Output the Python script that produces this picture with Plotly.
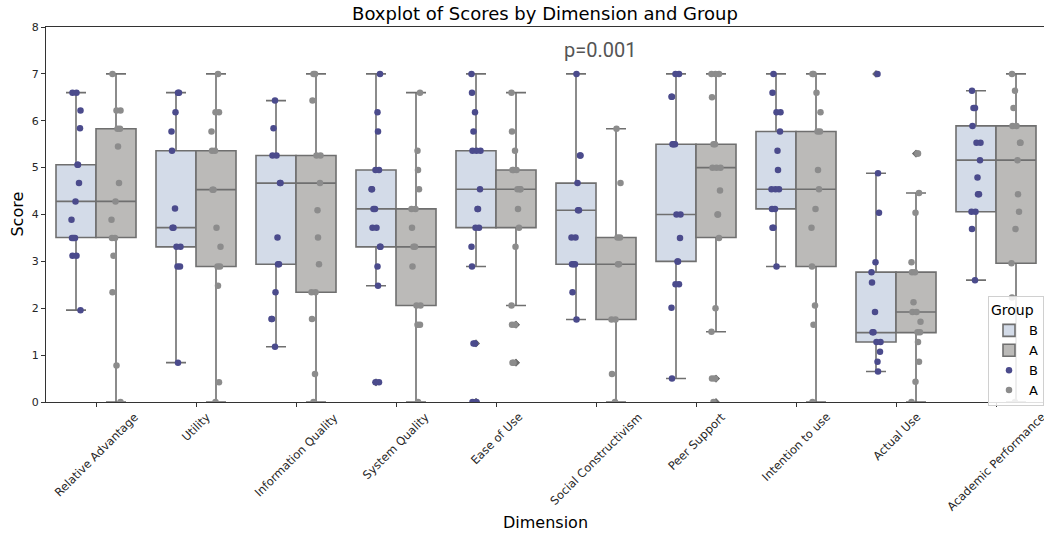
import plotly.graph_objects as go

dimensions = ["Relative Advantage", "Utility", "Information Quality", "System Quality",
              "Ease of Use", "Social Constructivism", "Peer Support", "Intention to use",
              "Actual Use", "Academic Performance"]
groups = ["B", "A"]

# individual scores
scores_B = [
    [6.6, 6.6, 6.22, 5.84, 5.06, 5.06, 4.67, 4.28, 3.89, 3.5, 3.5, 3.5, 3.12, 3.12, 1.96],
    [6.6, 6.6, 6.18, 5.77, 5.36, 4.13, 3.72, 3.72, 3.31, 3.31, 2.89, 2.89, 0.84],
    [6.43, 5.84, 5.26, 5.26, 4.67, 4.67, 3.51, 2.94, 2.94, 2.34, 1.77, 1.77, 1.18],
    [7.0, 6.18, 5.77, 4.95, 4.95, 4.54, 4.54, 4.12, 4.12, 3.72, 3.72, 3.31, 3.31, 2.89, 2.48, 0.42, 0.42],
    [7.0, 6.6, 6.18, 5.77, 5.36, 5.36, 5.36, 4.54, 4.12, 4.12, 3.72, 3.72, 3.31, 2.89, 1.25, 1.25, 0.0, 0.0],
    [7.0, 5.26, 5.26, 4.67, 4.09, 4.09, 3.51, 3.51, 2.94, 2.94, 2.94, 2.34, 1.76],
    [7.0, 7.0, 6.51, 6.51, 5.5, 5.5, 5.5, 4.0, 4.0, 3.5, 3.0, 3.0, 2.51, 2.51, 2.01, 0.5],
    [7.0, 6.6, 6.18, 6.18, 5.77, 5.36, 4.95, 4.54, 4.54, 4.54, 4.12, 4.12, 3.72, 3.72, 2.89],
    [7.0, 4.88, 4.04, 2.98, 2.77, 2.55, 1.92, 1.49, 1.49, 1.28, 1.28, 1.07, 0.86, 0.65],
    [6.64, 6.27, 6.27, 5.89, 5.53, 5.53, 5.16, 4.79, 4.43, 4.43, 4.06, 4.06, 3.69, 2.6],
]
scores_A = [
    [7.0, 6.22, 6.22, 5.83, 5.83, 5.45, 4.67, 4.28, 3.89, 3.5, 3.5, 3.12, 2.34, 0.78, 0.0],
    [7.0, 6.18, 6.18, 5.77, 5.36, 5.36, 4.53, 4.53, 3.72, 3.31, 2.89, 2.89, 2.48, 0.42, 0.0],
    [7.0, 7.0, 6.43, 5.26, 5.26, 4.67, 4.09, 3.51, 2.94, 2.34, 2.34, 1.77, 0.6, 0.0],
    [6.6, 5.36, 4.95, 4.54, 4.12, 4.12, 3.72, 3.31, 3.31, 2.89, 2.06, 2.06, 1.65, 1.65, 0.0],
    [6.6, 5.77, 5.36, 4.95, 4.95, 4.95, 4.54, 4.54, 4.54, 4.12, 3.72, 3.31, 2.06, 1.65, 1.65, 0.84, 0.84],
    [5.83, 4.67, 3.51, 3.51, 2.94, 2.94, 1.76, 1.76, 0.6, 0.0],
    [7.0, 7.0, 7.0, 6.5, 5.5, 5.5, 5.0, 5.0, 5.0, 4.51, 4.0, 4.0, 3.5, 2.0, 1.5, 0.5, 0.5, 0.0],
    [7.0, 7.0, 6.6, 6.18, 5.77, 5.77, 4.95, 4.54, 4.12, 3.72, 2.89, 2.06, 1.65, 0.0],
    [5.3, 5.3, 4.46, 4.04, 2.98, 2.77, 2.77, 2.13, 1.92, 1.92, 1.71, 1.49, 1.49, 1.28, 0.86, 0.43, 0.0],
    [7.0, 6.64, 6.27, 5.89, 5.89, 5.53, 5.53, 5.16, 4.43, 4.06, 3.69, 2.96, 2.23, 0.0],
]

# box statistics
q1_B = [3.51, 3.31, 2.94, 3.31, 3.72, 2.94, 3.0, 4.12, 1.28, 4.06]
med_B = [4.28, 3.72, 4.67, 4.12, 4.54, 4.09, 4.0, 4.54, 1.48, 5.16]
q3_B = [5.06, 5.36, 5.26, 4.95, 5.36, 4.67, 5.5, 5.77, 2.77, 5.89]
lo_B = [1.96, 0.84, 1.18, 2.48, 2.89, 1.76, 0.5, 2.89, 0.65, 2.6]
hi_B = [6.6, 6.6, 6.43, 7.0, 7.0, 7.0, 7.0, 7.0, 4.88, 6.64]

q1_A = [3.51, 2.89, 2.34, 2.06, 3.72, 1.76, 3.51, 2.89, 1.48, 2.96]
med_A = [4.28, 4.53, 4.67, 3.31, 4.54, 2.94, 5.0, 4.54, 1.92, 5.16]
q3_A = [5.83, 5.36, 5.26, 4.12, 4.95, 3.51, 5.5, 5.77, 2.77, 5.89]
lo_A = [0.0, 0.0, 0.0, 0.0, 2.06, 0.0, 1.5, 0.0, 0.0, 0.0]
hi_A = [7.0, 7.0, 7.0, 6.6, 6.6, 5.83, 7.0, 7.0, 4.46, 7.0]

p_text = "p=0.001"

fill = {"B": "#d3dbe8", "A": "#bbbab8"}
dot = {"B": "#4b4b8c", "A": "#8c8c8c"}
line_col = "#6f6f6f"
offset = {"B": -0.2, "A": 0.2}

stats = {"B": (q1_B, med_B, q3_B, lo_B, hi_B, scores_B),
         "A": (q1_A, med_A, q3_A, lo_A, hi_A, scores_A)}

fig = go.Figure()
n = len(dimensions)

for g in groups:
    q1, med, q3, lo, hi, _ = stats[g]
    fig.add_trace(go.Box(
        x=[i + offset[g] for i in range(n)], q1=q1, median=med, q3=q3,
        lowerfence=lo, upperfence=hi, width=0.4, whiskerwidth=0.5,
        fillcolor=fill[g], line=dict(color=line_col, width=1.6),
        name=g, legendgroup="box" + g, boxpoints=False, hoverinfo="skip"))

# fliers (diamonds), derived from the scores outside the whiskers
for g in groups:
    q1, med, q3, lo, hi, sc = stats[g]
    fx, fy = [], []
    for i in range(n):
        for v in sc[i]:
            if v > hi[i] + 1e-9 or v < lo[i] - 1e-9:
                fx.append(i + offset[g])
                fy.append(v)
    fig.add_trace(go.Scatter(x=fx, y=fy, mode="markers", showlegend=False,
                             marker=dict(symbol="diamond", size=6, color=line_col),
                             hoverinfo="skip"))

# strip points with a deterministic spread
pattern = [-0.035, 0.02, -0.01, 0.04, -0.045, 0.005, 0.03, -0.025, 0.015, -0.04, 0.045, -0.005]
for g in groups:
    sc = stats[g][5]
    xs, ys = [], []
    for i in range(n):
        for k, v in enumerate(sc[i]):
            xs.append(i + offset[g] + pattern[(k * 5 + i) % len(pattern)])
            ys.append(v)
    fig.add_trace(go.Scatter(x=xs, y=ys, mode="markers", name=g, legendgroup="pt" + g,
                             marker=dict(size=6.5, color=dot[g]), hoverinfo="skip"))

annotations = []
for i, d in enumerate(dimensions):
    annotations.append(dict(x=i, y=-0.014, xref="x", yref="paper", text=d, showarrow=False,
                            textangle=-45, xanchor="center", yanchor="top",
                            font=dict(family="DejaVu Sans", size=11.5, color="#262626")))
annotations.append(dict(x=0.5, y=-0.32, xref="paper", yref="paper", text="Dimension",
                        showarrow=False, xanchor="center", yanchor="middle",
                        font=dict(family="DejaVu Sans", size=16, color="black")))
annotations.append(dict(x=-0.029, y=0.5, xref="paper", yref="paper", text="Score",
                        showarrow=False, textangle=-90, xanchor="center", yanchor="middle",
                        font=dict(family="DejaVu Sans", size=16, color="black")))
annotations.append(dict(x=5.04, y=7.52, xref="x", yref="y", text=p_text, showarrow=False,
                        xanchor="center", yanchor="middle",
                        font=dict(family="Roboto", size=20, color="#555555")))

fig.update_layout(
    width=1044, height=533,
    margin=dict(l=46, r=0, t=27, b=131, autoexpand=False),
    plot_bgcolor="white", paper_bgcolor="white",
    title=dict(text="Boxplot of Scores by Dimension and Group", x=0.5, xref="paper",
               y=1 - 14 / 533, yref="container", yanchor="middle", xanchor="center",
               font=dict(family="DejaVu Sans", size=18, color="black")),
    xaxis=dict(range=[-0.5, 9.48], tickvals=list(range(n)), showticklabels=False,
               ticks="outside", ticklen=4, tickcolor="#333", showline=True, linecolor="#333",
               linewidth=1, mirror=True, showgrid=False, zeroline=False),
    yaxis=dict(range=[0, 8], dtick=1, ticks="outside", ticklen=4, tickcolor="#333",
               showline=True, linecolor="#333", linewidth=1, mirror=True, showgrid=False,
               zeroline=False, tickfont=dict(family="DejaVu Sans", size=11, color="#262626")),
    legend=dict(x=1.0, y=0.282, xanchor="right", yanchor="top", bgcolor="rgba(255,255,255,0.85)",
                bordercolor="#d0d0d0", borderwidth=1, tracegroupgap=0, itemwidth=30,
                title=dict(text="Group", font=dict(family="DejaVu Sans", size=14)),
                font=dict(family="DejaVu Sans", size=13, color="black")),
    annotations=annotations,
    showlegend=True,
)

fig.write_html("out.html", config={"displayModeBar": False},
               post_script="document.body.style.margin='0';document.body.style.overflow='hidden';")
